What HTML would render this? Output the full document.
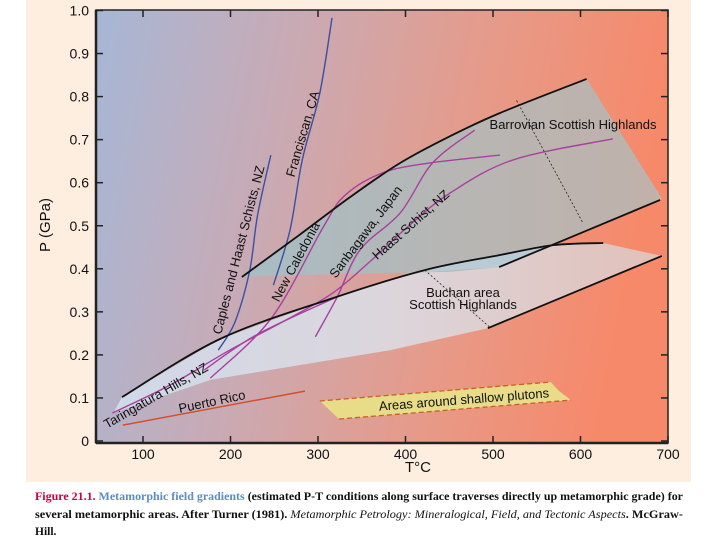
<!DOCTYPE html>
<html><head><meta charset="utf-8"><style>
html,body{margin:0;padding:0;background:#fff;width:720px;height:540px;overflow:hidden}
svg text{font-family:"Liberation Sans",sans-serif}
</style></head><body>
<svg id="chart" width="720" height="540" viewBox="0 0 720 540" xmlns="http://www.w3.org/2000/svg">
<defs>
<linearGradient id="bg" x1="0" y1="0" x2="1" y2="0.15">
<stop offset="0" stop-color="#a6b7d6"/><stop offset="0.35" stop-color="#c9aab4"/><stop offset="0.7" stop-color="#e79a88"/><stop offset="1" stop-color="#f6896a"/>
</linearGradient>
<linearGradient id="grayg" x1="0" y1="0" x2="1" y2="0">
<stop offset="0" stop-color="#a8bcc4"/><stop offset="0.5" stop-color="#b7b6b4"/><stop offset="1" stop-color="#c0b1aa"/>
</linearGradient>
<linearGradient id="paleg" x1="0" y1="0" x2="1" y2="0">
<stop offset="0" stop-color="#cfd9e8"/><stop offset="0.5" stop-color="#dcd6dc"/><stop offset="1" stop-color="#e2c0b8"/>
</linearGradient>
</defs>
<rect x="26" y="0" width="665" height="482" fill="#fdeee0"/>
<rect x="96" y="10" width="572" height="433" fill="url(#bg)"/>
<g id="regions"></g>
<g id="lines"></g>
<g id="axes"></g>
<g font-size="13" fill="#111">
<text transform="translate(239,250) rotate(-75.5)" text-anchor="middle" dy="4">Caples and Haast Schists, NZ</text>
<text transform="translate(303,134) rotate(-73.5)" text-anchor="middle" dy="4">Franciscan, CA</text>
<text transform="translate(296,262) rotate(-62)" text-anchor="middle" dy="4">New Caledonia</text>
<text transform="translate(366,232) rotate(-53)" text-anchor="middle" dy="4">Sanbagawa, Japan</text>
<text transform="translate(411,225) rotate(-41.5)" text-anchor="middle" dy="4">Haast Schist, NZ</text>
<text transform="translate(156,396) rotate(-30)" text-anchor="middle" dy="4">Taringatura Hills, NZ</text>
<text transform="translate(212,402) rotate(-12)" text-anchor="middle" dy="4">Puerto Rico</text>
<text transform="translate(464,400) rotate(-4.5)" text-anchor="middle" dy="4">Areas around shallow plutons</text>
<text x="573" y="129" text-anchor="middle">Barrovian Scottish Highlands</text>
<text x="463" y="297" text-anchor="middle">Buchan area</text>
<text x="463" y="309" text-anchor="middle">Scottish Highlands</text>
</g>
<text transform="translate(50,225) rotate(-90)" text-anchor="middle" font-size="15" fill="#111">P (GPa)</text>
<text x="418" y="472" text-anchor="middle" font-size="15" fill="#111">T°C</text>
<g font-size="11.5" font-weight="bold" fill="#111">
<text x="35" y="500" textLength="648" lengthAdjust="spacingAndGlyphs" style="font-family:'Liberation Serif',serif"><tspan fill="#c8003c">Figure 21.1.</tspan> <tspan fill="#5b8cc4">Metamorphic field gradients</tspan> (estimated P-T conditions along surface traverses directly up metamorphic grade) for</text>
<text x="35" y="518" textLength="648" lengthAdjust="spacingAndGlyphs" style="font-family:'Liberation Serif',serif">several metamorphic areas. After Turner (1981). <tspan font-style="italic" font-weight="normal">Metamorphic Petrology: Mineralogical, Field, and Tectonic Aspects</tspan>. McGraw-</text>
<text x="35" y="535" style="font-family:'Liberation Serif',serif">Hill.</text>
</g>
</svg>
<script>
const xTicks=[100,200,300,400,500,600,700];
const yTicks=[0,0.1,0.2,0.3,0.4,0.5,0.6,0.7,0.8,0.9,1.0];
const yTickLabels=["0","0.1","0.2","0.3","0.4","0.5","0.6","0.7","0.8","0.9","1.0"];
const barrovianUpper=[[213,0.381],[279,0.479],[337,0.567],[394,0.646],[451,0.708],[508,0.762],[607,0.841]];
const barrovianLower=[[507,0.404],[691,0.56]];
const barrovianRegion=[[213,0.381],[279,0.479],[337,0.567],[394,0.646],[451,0.708],[508,0.762],[607,0.841],[693,0.564],[691,0.56],[507,0.404],[451,0.393],[222,0.383]];
const overlapRegion=[[394,0.388],[507,0.404],[569,0.453],[508,0.432],[422,0.397]];
const buchanUpper=[[76,0.102],[188,0.237],[317,0.332],[422,0.397],[508,0.432],[569,0.455],[626,0.46]];
const buchanLower=[[494,0.262],[693,0.43]];
const buchanRegion=[[76,0.102],[188,0.237],[317,0.332],[422,0.397],[508,0.432],[569,0.455],[626,0.46],[693,0.43],[494,0.262],[382,0.211],[177,0.142],[66,0.065]];
const newCaledonia=[[177,0.146],[247,0.286],[306,0.497],[331,0.571],[374,0.623],[428,0.646],[508,0.664]];
const sanbagawa=[[297,0.242],[322,0.335],[348,0.444],[394,0.53],[431,0.646],[479,0.722]];
const taringaturaHaast=[[65,0.065],[131,0.13],[199,0.211],[268,0.286],[317,0.344],[359,0.416],[405,0.502],[451,0.576],[523,0.653],[637,0.702]];
const extraGradient=[[170,0.165],[230,0.247],[322,0.335]];
const caples=[[186,0.211],[205,0.276],[222,0.397],[231,0.525],[246,0.664]];
const franciscan=[[249,0.362],[268,0.49],[282,0.653],[302,0.808],[316,0.983]];
const puertoRico=[[77,0.037],[285,0.116]];
const plutonUpper=[[302,0.093],[566,0.137]];
const plutonLower=[[324,0.051],[589,0.095]];
const barrovianArrow=[[527,0.791],[603,0.506]];
const buchanArrow=[[422,0.397],[497,0.263]];

const NS="http://www.w3.org/2000/svg";
const X=t=>143+(t-100)*0.875;
const Y=p=>441-p*430.5;
const pts=a=>a.map(d=>X(d[0]).toFixed(1)+","+Y(d[1]).toFixed(1)).join(" ");
function smooth(a){
  const P=a.map(d=>[X(d[0]),Y(d[1])]);
  let s="M"+P[0][0].toFixed(1)+","+P[0][1].toFixed(1);
  for(let i=0;i<P.length-1;i++){
    const p0=P[Math.max(0,i-1)],p1=P[i],p2=P[i+1],p3=P[Math.min(P.length-1,i+2)];
    const c1=[p1[0]+(p2[0]-p0[0])/6,p1[1]+(p2[1]-p0[1])/6];
    const c2=[p2[0]-(p3[0]-p1[0])/6,p2[1]-(p3[1]-p1[1])/6];
    s+=" C"+c1[0].toFixed(1)+","+c1[1].toFixed(1)+" "+c2[0].toFixed(1)+","+c2[1].toFixed(1)+" "+p2[0].toFixed(1)+","+p2[1].toFixed(1);
  }
  return s;
}
function mk(tag,parent,attrs){const e=document.createElementNS(NS,tag);for(const k in attrs)e.setAttribute(k,attrs[k]);document.getElementById(parent).appendChild(e);return e;}

let e;
e=mk("polygon","regions",{points:pts(buchanRegion),fill:"url(#paleg)"});


e=mk("polygon","regions",{points:pts(barrovianRegion),fill:"url(#grayg)"});


e=mk("polygon","regions",{points:pts(overlapRegion),fill:"#b9ccd6"});


e=mk("polygon","regions",{points:pts([plutonUpper[0],plutonUpper[1],[575,0.117],plutonLower[1],plutonLower[0]]),fill:"#e8dc88"});


e=mk("polyline","regions",{points:pts(plutonUpper),fill:"none",stroke:"#c8602a","stroke-width":1.3,"stroke-dasharray":"5,3"});


e=mk("polyline","regions",{points:pts(plutonLower),fill:"none",stroke:"#c8602a","stroke-width":1.3,"stroke-dasharray":"5,3"});



const purple="#a8409e", blue="#3a4fa0";
e=mk("path","lines",{d:smooth(newCaledonia),fill:"none",stroke:purple,"stroke-width":1.4});


e=mk("path","lines",{d:smooth(sanbagawa),fill:"none",stroke:purple,"stroke-width":1.4});


e=mk("path","lines",{d:smooth(taringaturaHaast),fill:"none",stroke:purple,"stroke-width":1.4});


e=mk("path","lines",{d:smooth(extraGradient),fill:"none",stroke:purple,"stroke-width":1.4});


e=mk("path","lines",{d:smooth(caples),fill:"none",stroke:blue,"stroke-width":1.4});


e=mk("path","lines",{d:smooth(franciscan),fill:"none",stroke:blue,"stroke-width":1.4});


e=mk("path","lines",{d:smooth(puertoRico),fill:"none",stroke:"#d0502c","stroke-width":1.5});


e=mk("path","lines",{d:smooth(barrovianUpper),fill:"none",stroke:"#111","stroke-width":1.8});


e=mk("path","lines",{d:smooth(barrovianLower),fill:"none",stroke:"#111","stroke-width":1.8});


e=mk("path","lines",{d:smooth(buchanUpper),fill:"none",stroke:"#111","stroke-width":1.8});


e=mk("path","lines",{d:smooth(buchanLower),fill:"none",stroke:"#111","stroke-width":1.8});


e=mk("polyline","lines",{points:pts(barrovianArrow),fill:"none",stroke:"#222","stroke-width":0.8,"stroke-dasharray":"2,2"});


e=mk("polyline","lines",{points:pts(buchanArrow),fill:"none",stroke:"#222","stroke-width":0.8,"stroke-dasharray":"2,2"});



e=mk("rect","axes",{x:96,y:10,width:572,height:433,fill:"none",stroke:"#222","stroke-width":1.5});


e=mk("line","axes",{x1:96,y1:443,x2:668,y2:443,stroke:"#222","stroke-width":2.5});


e=mk("line","axes",{x1:96,y1:10,x2:96,y2:443,stroke:"#222","stroke-width":2.5});


xTicks.forEach(t=>{
  const x=X(t);
  e=mk("line","axes",{x1:x,y1:443,x2:x,y2:436,stroke:"#222","stroke-width":1.5});
  
  
  e=mk("line","axes",{x1:x,y1:10,x2:x,y2:17,stroke:"#222","stroke-width":1.5});
  
  
  e=mk("text","axes",{x:x,y:459,"text-anchor":"middle","font-size":14,fill:"#111"});
  e.textContent=String(t);
  
  
});
yTicks.forEach((p,i)=>{
  const y=Y(p);
  e=mk("line","axes",{x1:96,y1:y,x2:103,y2:y,stroke:"#222","stroke-width":1.5});
  
  
  e=mk("line","axes",{x1:668,y1:y,x2:661,y2:y,stroke:"#222","stroke-width":1.5});
  
  
  e=mk("text","axes",{x:89,y:y+5,"text-anchor":"end","font-size":14,fill:"#111"});
  e.textContent=yTickLabels[i];
  
  
});
</script>
</body></html>
